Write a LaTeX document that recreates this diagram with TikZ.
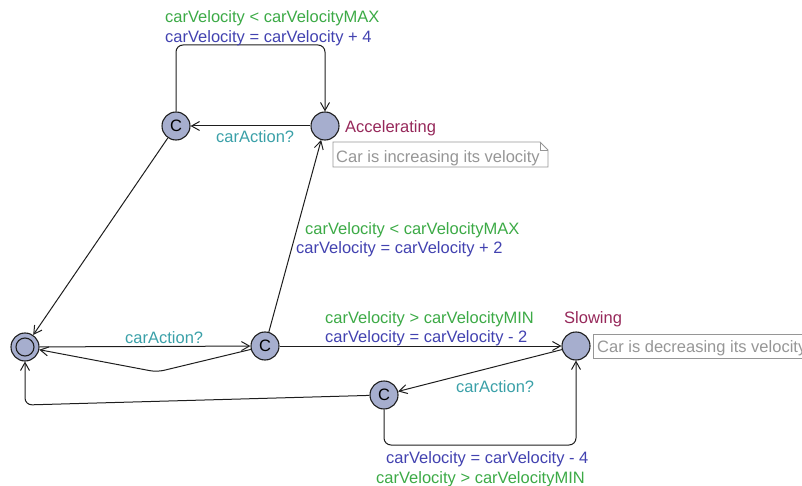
\documentclass[tikz,border=0pt]{standalone}
\usepackage{fontspec}
\setmainfont{Liberation Sans}
\usetikzlibrary{arrows.meta}

\definecolor{locfill}{RGB}{166,174,206}
\definecolor{guardcol}{RGB}{60,170,70}
\definecolor{assigncol}{RGB}{66,66,176}
\definecolor{synccol}{RGB}{58,160,168}
\definecolor{namecol}{RGB}{150,40,90}
\definecolor{notecol}{RGB}{150,150,150}
\definecolor{edgecol}{RGB}{30,30,30}

\begin{document}
\begin{tikzpicture}[x=1pt,y=-1pt,
  font=\fontsize{16.5}{20}\selectfont,
  loc/.style={circle, draw=edgecol, fill=locfill, line width=1.1pt,
              minimum size=28pt, inner sep=0pt},
  trans/.style={draw=edgecol, line width=1pt, rounded corners=7pt,
                -{Straight Barb[length=8pt,width=9pt]}},
  lbl/.style={anchor=base west, inner sep=0pt},
  guard/.style={lbl, text=guardcol},
  assign/.style={lbl, text=assigncol},
  sync/.style={lbl, text=synccol},
  locname/.style={lbl, text=namecol},
  note/.style={draw=notecol, line width=0.9pt},
  notetext/.style={lbl, text=notecol}]

\clip (0,0) rectangle (802,486);

% locations
\node[loc] (init) at (25,347) {};
\draw[edgecol, line width=1.1pt] (init) circle[radius=9pt];
\node[loc] (c1) at (176,126) {C};
\node[loc] (acc) at (325,126) {};
\node[loc] (c2) at (265,346) {C};
\node[loc] (slow) at (576,346) {};
\node[loc] (c3) at (384,395) {C};

% bend points
\coordinate (k1) at (176,45);
\coordinate (k2) at (325,45);
\coordinate (k3) at (157,372);
\coordinate (k4) at (25,405);
\coordinate (k5) at (384,445);
\coordinate (k6) at (576,445);

% location names
\node[locname] (nacc) at (345,133) {Accelerating};
\node[locname] (nslow) at (564,323.5) {Slowing};

% comments
\draw[note] (333,142) -- (540,142) -- (548,150) -- (548,167) -- (333,167) -- cycle;
\draw[note] (540,142) -- (540,150) -- (548,150);
\node[notetext] (cm1) at (336,163) {Car is increasing its velocity};
\draw[note] (593,334) rectangle (812,358);
\node[notetext] (cm2) at (597,352) {Car is decreasing its velocity};

% transitions
\draw[trans] (acc) -- (c1);
\draw[trans] (c1) -- (k1) -- (k2) -- (acc);
\draw[trans] (c1) -- (init);
\draw[trans] (init) -- (c2);
\draw[trans] (c2) -- (k3) -- (init);
\draw[trans] (c2) -- (acc);
\draw[trans] (c2) -- (slow);
\draw[trans] (slow) -- (c3);
\draw[trans] (c3) -- (k4) -- (init);
\draw[trans] (c3) -- (k5) -- (k6) -- (slow);

% transition labels
\node[guard]  (g1) at (165,23) {carVelocity < carVelocityMAX};
\node[assign] (a1) at (165,43) {carVelocity = carVelocity + 4};
\node[sync]   (s1) at (216,143) {carAction?};
\node[guard]  (g2) at (305,234.5) {carVelocity < carVelocityMAX};
\node[assign] (a2) at (296,253.5) {carVelocity = carVelocity + 2};
\node[sync]   (s2) at (125,343) {carAction?};
\node[guard]  (g3) at (325,323) {carVelocity > carVelocityMIN};
\node[assign] (a3) at (325,342) {carVelocity = carVelocity - 2};
\node[sync]   (s3) at (456,392) {carAction?};
\node[assign] (a4) at (386,463) {carVelocity = carVelocity - 4};
\node[guard]  (g4) at (376,483) {carVelocity > carVelocityMIN};

\end{tikzpicture}
\end{document}
